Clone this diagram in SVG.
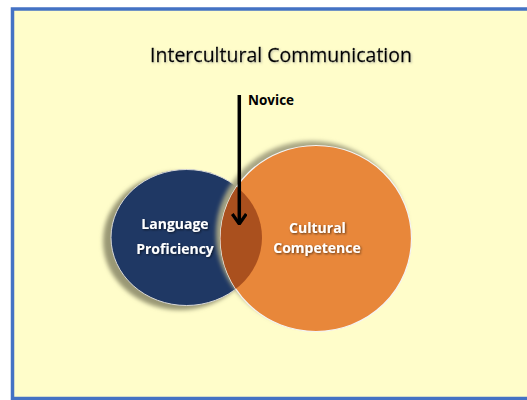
<svg xmlns="http://www.w3.org/2000/svg" width="527" height="400" viewBox="0 0 527 400">
<defs>
<style>
.title{font-family:"Open Sans","Liberation Sans",sans-serif;font-size:19.5px;fill:#000;stroke:#000;stroke-width:0.3;}
.lbl{font-family:"Open Sans","Liberation Sans",sans-serif;font-size:14px;font-weight:bold;fill:#fff;text-anchor:middle;}
.nov{font-family:"Open Sans","Liberation Sans",sans-serif;font-size:13.5px;font-weight:bold;fill:#000;}
</style>
<filter id="blur" x="-20%" y="-20%" width="140%" height="140%"><feGaussianBlur stdDeviation="2"/></filter>
<filter id="tsh" x="-10%" y="-30%" width="120%" height="160%"><feDropShadow dx="1" dy="1" stdDeviation="0.8" flood-color="#000" flood-opacity="0.6"/></filter>
<filter id="tsh2" x="-10%" y="-30%" width="120%" height="160%"><feDropShadow dx="1" dy="1" stdDeviation="0.8" flood-color="#888" flood-opacity="0.5"/></filter>
<clipPath id="blueClip"><ellipse cx="186.5" cy="237.5" rx="75.5" ry="68"/></clipPath>
<marker id="chev" viewBox="0 0 12 16" refX="11" refY="8" markerWidth="12" markerHeight="16" markerUnits="userSpaceOnUse" orient="auto">
<path d="M1,1 L11,8 L1,15" fill="none" stroke="#000" stroke-width="3.2"/>
</marker>
</defs>
<rect x="12.5" y="9" width="530" height="389.5" fill="#FFFDCA" stroke="#4472C4" stroke-width="3.5"/>
<text class="title" x="281" y="62" text-anchor="middle" filter="url(#tsh2)">Intercultural Communication</text>
<g id="language-proficiency">
<ellipse cx="180" cy="241" rx="77" ry="69" fill="#9A9874" filter="url(#blur)"/>
<ellipse cx="186.5" cy="237.5" rx="75.5" ry="68" fill="#1F3864" stroke="#D8D8D8" stroke-width="1"/>
<text class="lbl" x="175" y="229" filter="url(#tsh)">Language</text>
<text class="lbl" x="175" y="254" filter="url(#tsh)">Proficiency</text>
</g>
<g id="cultural-competence">
<ellipse cx="312" cy="234" rx="96" ry="93" fill="#A8A684" filter="url(#blur)"/>
<ellipse cx="316" cy="238.5" rx="95.5" ry="93" fill="#E8873A" stroke="#F4F4F4" stroke-width="1.2"/>
<ellipse cx="316" cy="238.5" rx="95.5" ry="93" fill="#AA501E" clip-path="url(#blueClip)"/>
<text class="lbl" x="317.5" y="233" filter="url(#tsh)">Cultural</text>
<text class="lbl" x="317" y="253" filter="url(#tsh)">Competence</text>
</g>
<g id="connectors">
<line x1="239.3" y1="95" x2="239.3" y2="224" stroke="#000" stroke-width="3.5" marker-end="url(#chev)"/>
</g>
<g id="novice">
<text class="nov" x="248" y="105">Novice</text>
</g>
</svg>
